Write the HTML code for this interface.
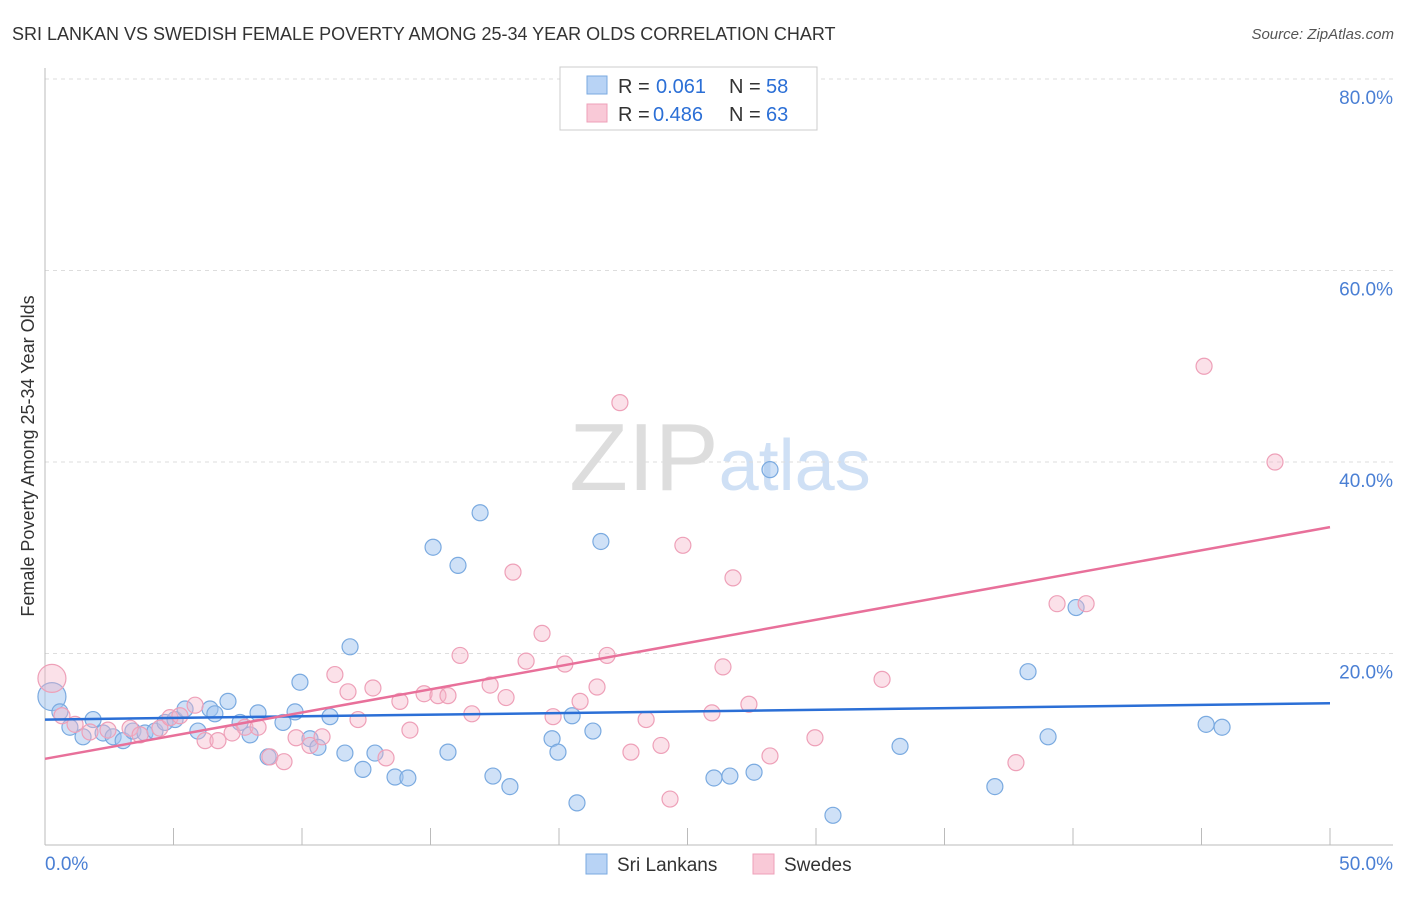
<!DOCTYPE html>
<html><head><meta charset="utf-8"><style>
body{margin:0;background:#fff;font-family:"Liberation Sans",sans-serif;}
svg text{font-family:"Liberation Sans",sans-serif;}
</style></head><body>
<svg id="chart" width="1406" height="892" xmlns="http://www.w3.org/2000/svg">
<text x="12" y="40" font-size="18" fill="#333">SRI LANKAN VS SWEDISH FEMALE POVERTY AMONG 25-34 YEAR OLDS CORRELATION CHART</text>
<text x="1394" y="39" font-size="15" fill="#555" text-anchor="end" font-style="italic">Source: ZipAtlas.com</text>
<text x="720" y="490" font-size="96" text-anchor="middle" fill="#ddd" font-family="Liberation Serif"><tspan>ZIP</tspan><tspan fill="#cfe0f5" font-family="Liberation Sans" font-size="72">atlas</tspan></text>
<text transform="translate(34,456) rotate(-90)" font-size="18" fill="#333" text-anchor="middle">Female Poverty Among 25-34 Year Olds</text>
<g id="grid"></g><g id="axes"></g><g id="pts"></g><g id="trends"></g>
<g>
<rect x="560" y="67" width="257" height="63" fill="#fff" stroke="#ccc"/>
<rect x="587" y="76" width="20" height="18" fill="#b8d3f5" stroke="#7aaae0"/>
<text x="618" y="93" font-size="20" fill="#333">R =</text>
<text x="656" y="93" font-size="20" fill="#2b6fd6">0.061</text>
<text x="729" y="93" font-size="20" fill="#333">N =</text>
<text x="766" y="93" font-size="20" fill="#2b6fd6">58</text>
<rect x="587" y="104" width="20" height="18" fill="#f9c9d7" stroke="#eea0b8"/>
<text x="618" y="121" font-size="20" fill="#333">R =</text>
<text x="653" y="121" font-size="20" fill="#2b6fd6">0.486</text>
<text x="729" y="121" font-size="20" fill="#333">N =</text>
<text x="766" y="121" font-size="20" fill="#2b6fd6">63</text>
</g>
<g>
<rect x="586" y="854" width="21" height="20" fill="#b8d3f5" stroke="#7aaae0"/>
<text x="617" y="871" font-size="19" fill="#333">Sri Lankans</text>
<rect x="753" y="854" width="21" height="20" fill="#f9c9d7" stroke="#eea0b8"/>
<text x="784" y="871" font-size="19" fill="#333">Swedes</text>
</g>
</svg>
<script>
const yTicks=[20,40,60,80];
const yTickLabels=["20.0%","40.0%","60.0%","80.0%"];
const xTickLabels=["0.0%","50.0%"];
const blueX=[0.27,0.58,0.97,1.48,1.87,2.26,2.65,3.04,3.42,3.89,4.28,4.67,5.06,5.45,5.95,6.42,6.61,7.12,7.59,7.98,8.29,8.68,9.26,9.73,9.92,10.31,10.62,11.09,11.67,11.87,12.37,12.84,13.62,14.12,15.10,15.68,16.07,16.93,17.43,18.09,19.73,19.96,20.51,20.70,21.32,21.63,26.03,26.65,27.59,28.21,30.66,33.27,36.96,38.25,39.03,40.12,45.18,45.80];
const blueY=[15.5,13.9,12.3,11.3,13.1,11.7,11.3,10.9,11.9,11.7,11.9,12.8,13.1,14.2,11.9,14.2,13.7,15.0,12.8,11.5,13.8,9.2,12.8,13.9,17.0,11.1,10.2,13.4,9.6,20.7,7.9,9.6,7.1,7.0,31.1,9.7,29.2,34.7,7.2,6.1,11.1,9.7,13.5,4.4,11.9,31.7,7.0,7.2,7.6,39.2,3.1,10.3,6.1,18.1,11.3,24.8,12.6,12.3];
const pinkX=[0.27,0.66,1.17,1.75,2.45,3.31,3.70,4.47,4.86,5.25,5.84,6.23,6.73,7.28,7.78,8.29,8.75,9.30,9.77,10.31,10.78,11.28,11.79,12.18,12.76,13.27,13.81,14.20,14.75,15.29,15.68,16.15,16.61,17.32,17.94,18.21,18.72,19.34,19.77,20.23,20.82,21.48,21.87,22.37,22.80,23.39,23.97,24.32,24.82,25.95,26.38,26.77,27.39,28.21,29.96,32.57,37.78,39.38,40.51,45.10,47.86];
const pinkY=[17.4,13.5,12.6,11.8,12.0,12.2,11.5,12.2,13.3,13.5,14.6,10.9,10.9,11.7,12.3,12.3,9.2,8.7,11.2,10.4,11.3,17.8,16.0,13.1,16.4,9.1,15.0,12.0,15.8,15.6,15.6,19.8,13.7,16.7,15.4,28.5,19.2,22.1,13.4,18.9,15.0,16.5,19.8,46.2,9.7,13.1,10.4,4.8,31.3,13.8,18.6,27.9,14.7,9.3,11.2,17.3,8.6,25.2,25.2,50.0,40.0];
const blueTrend=[13.1,14.8];
const pinkTrend=[9.0,33.2];
const NS="http://www.w3.org/2000/svg";
const X=v=>45+v*25.7, Y=v=>845-v*9.575;
function mk(t,a,p){const e=document.createElementNS(NS,t);for(const k in a)e.setAttribute(k,a[k]);document.getElementById(p).appendChild(e);return e;}
yTicks.forEach((t,i)=>{
 const g=mk('line',{x1:45,x2:1393,y1:Y(t),y2:Y(t),stroke:'#ddd','stroke-dasharray':'4,4'},'grid');
 
 
 const l=mk('text',{x:1393,y:Y(t)+25,'font-size':19,fill:'#4a7fd4','text-anchor':'end'},'grid');
 
 
 l.textContent=yTickLabels[i];
});
const ax=mk('line',{x1:45,x2:45,y1:68,y2:845,stroke:'#bbb'},'axes');


const bx=mk('line',{x1:45,x2:1393,y1:845,y2:845,stroke:'#bbb'},'axes');


for(let i=0;i<=10;i++){const t=mk('line',{x1:X(i*5),x2:X(i*5),y1:828,y2:845,stroke:'#bbb'},'axes');
 
 }
[[0,'start',45],[1,'end',1393]].forEach(([i,a,x])=>{const t=mk('text',{x:x,y:870,'font-size':19,fill:'#4a7fd4','text-anchor':a},'axes');
 
 
 t.textContent=xTickLabels[i];});
function dots(xs,ys,fill,stroke,name){xs.forEach((x,i)=>{const r=i===0?14:8;
 const c=mk('circle',{cx:X(x),cy:Y(ys[i]),r:r,fill:fill,stroke:stroke,'stroke-width':1.2},'pts');
 
 });}
dots(blueX,blueY,'rgba(160,195,240,0.5)','#7aaae0','sri-lankan-point');
dots(pinkX,pinkY,'rgba(245,180,200,0.4)','#eea0b8','swede-point');
const bt=mk('line',{x1:X(0),y1:Y(blueTrend[0]),x2:X(50),y2:Y(blueTrend[1]),stroke:'#2b6fd6','stroke-width':2.5},'trends');


const pt=mk('line',{x1:X(0),y1:Y(pinkTrend[0]),x2:X(50),y2:Y(pinkTrend[1]),stroke:'#e8709a','stroke-width':2.5},'trends');


</script>
</body></html>
